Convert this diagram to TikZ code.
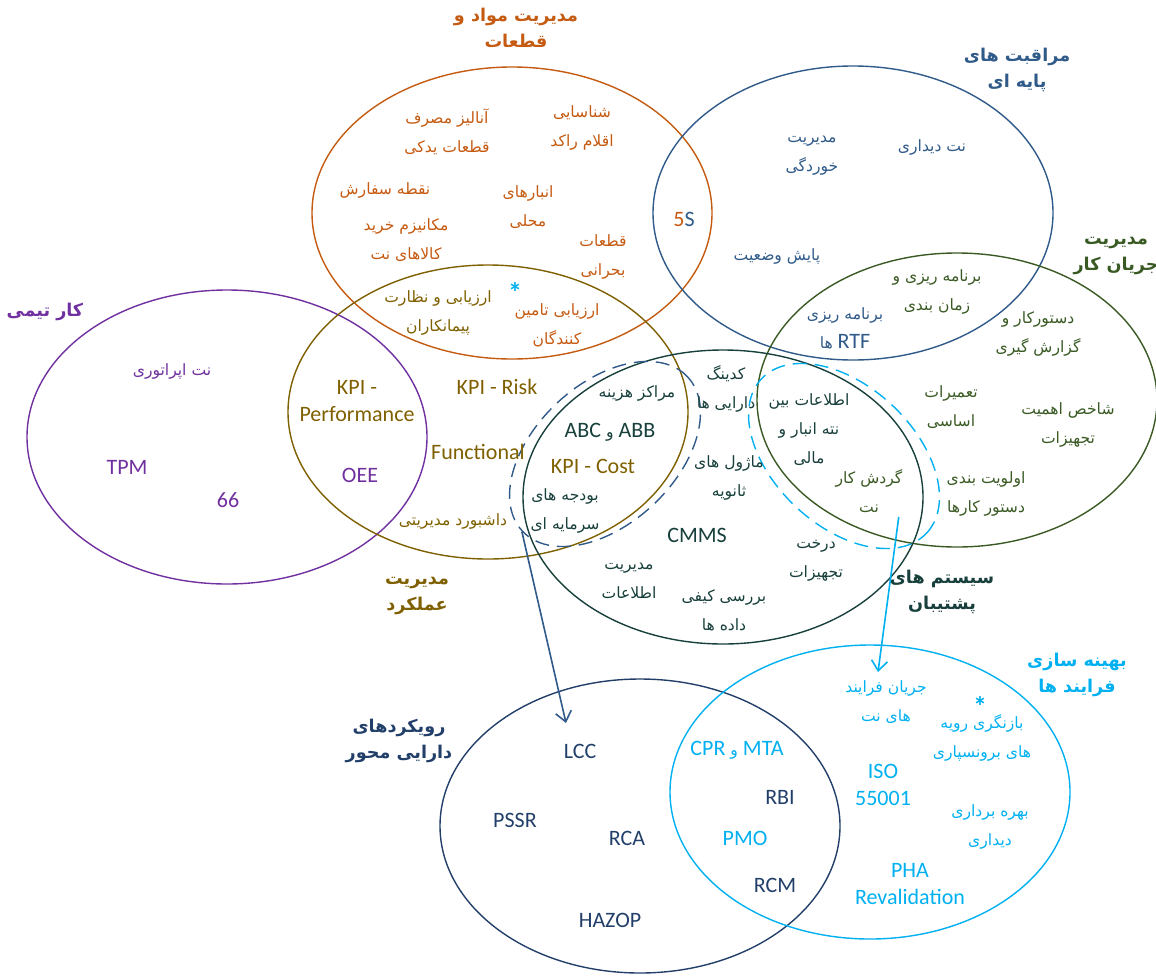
\documentclass[tikz,border=0pt]{standalone}
\usepackage{fontspec}
\setmainfont{Carlito}
\newfontfamily\fa[Script=Arabic]{DejaVu Sans}
\TeXXeTstate=1
\usetikzlibrary{shapes.geometric}
\usetikzlibrary{arrows.meta}
\definecolor{orangeM}{HTML}{C55A11}
\definecolor{blueB}{HTML}{2F5A89}
\definecolor{greenW}{HTML}{3A5A24}
\definecolor{purpleT}{HTML}{7030A0}
\definecolor{oliveP}{HTML}{7F6000}
\definecolor{tealS}{HTML}{173F3B}
\definecolor{navyA}{HTML}{223F6A}
\definecolor{cyanO}{HTML}{00B0F0}
\newcommand{\rl}[1]{\beginR #1\endR}
\newcommand{\lt}[1]{\beginL{\rmfamily\fontsize{11}{13}\selectfont #1}\endL}

\begin{document}
\begin{tikzpicture}[x=0.5pt, y=-0.5pt,
		>={Straight Barb[length=5pt, width=8pt]},
		ring/.style={line width=0.7pt},
		lens/.style={ellipse, draw, dash pattern=on 7pt off 4pt, line width=0.7pt, inner sep=0pt, minimum width=113pt, minimum height=70pt},
		fa/.style={font=\fa\fontsize{7.8}{14.5}\selectfont, align=center, inner sep=1pt},
		en/.style={font=\fontsize{11}{13.5}\selectfont, align=center, inner sep=1pt},
		head/.style={font=\fa\bfseries\fontsize{8.8}{13}\selectfont, align=center, inner sep=1pt},
		star/.style={font=\bfseries\fontsize{14}{14}\selectfont, text=cyanO, inner sep=0pt},
		link/.style={->, line width=0.8pt}]
		\useasboundingbox (0,0) rectangle (1156,975);
		
		% the rings
		\draw[ring, orangeM] (512,213) ellipse [x radius=100pt, y radius=73pt];
		\draw[ring, blueB] (853,213) ellipse [x radius=100pt, y radius=73.5pt];
		\draw[ring, greenW] (957,400) ellipse [x radius=100pt, y radius=73.5pt];
		\draw[ring, purpleT] (227,437) ellipse [x radius=100pt, y radius=73.5pt];
		\draw[ring, oliveP] (488,412) ellipse [x radius=100pt, y radius=73.5pt];
		\draw[ring, tealS] (723,497) ellipse [x radius=100pt, y radius=73.5pt];
		\draw[ring, navyA] (640,826) ellipse [x radius=100pt, y radius=73.5pt];
		\draw[ring, cyanO] (870,792) ellipse [x radius=100pt, y radius=73.5pt];
		
		\draw (605,454) node[lens, blueB, rotate=43] (lensA) {};
		\draw (844,456) node[lens, cyanO, rotate=-43] (lensB) {};
		
		% materials and parts
		\draw (516,28) node[head, text=orangeM] (matT) {\rl{مدیریت مواد و}\\\rl{قطعات}};
		\draw (447,132) node[fa, text=orangeM] (spend) {\rl{آنالیز مصرف}\\\rl{قطعات یدکی}};
		\draw (582,128) node[fa, text=orangeM] (idle) {\rl{شناسایی}\\\rl{اقلام راکد}};
		\draw (385,190) node[fa, text=orangeM] (reord) {\rl{نقطه سفارش}};
		\draw (406,240) node[fa, text=orangeM] (buy) {\rl{مکانیزم خرید}\\\rl{کالاهای نت}};
		\draw (528,207) node[fa, text=orangeM] (store) {\rl{انبارهای}\\\rl{محلی}};
		\draw (603,257) node[fa, text=orangeM] (crit) {\rl{قطعات}\\\rl{بحرانی}};
		\draw (557,325) node[fa, text=orangeM] (supl) {\rl{ارزیابی تامین}\\\rl{کنندگان}};
		\draw (515,292) node[star] (st1) {*};
		\draw (684,219) node[en] (fives) {\textcolor{orangeM}{5}\textcolor{blueB}{S}};
		
		% performance
		\draw (438,313) node[fa, text=oliveP] (contr) {\rl{ارزیابی و نظارت}\\\rl{پیمانکاران}};
		\draw (357,401) node[en, text=oliveP] (kpip) {KPI -\\Performance};
		\draw (497,387) node[en, text=oliveP] (kpir) {KPI - Risk};
		\draw (478,452) node[en, text=oliveP] (func) {Functional};
		\draw (453,521) node[fa, text=oliveP] (dash) {\rl{داشبورد مدیریتی}};
		\draw (417,596) node[head, text=oliveP] (perfT) {\rl{مدیریت}\\\rl{عملکرد}};
		\draw (593,466) node[en, text=oliveP] (kpic) {KPI - Cost};
		
		% team work
		\draw (45,312) node[head, text=purpleT] (teamT) {\rl{کار تیمی}};
		\draw (172,371) node[fa, text=purpleT] (opm) {\rl{نت اپراتوری}};
		\draw (127,467) node[en, text=purpleT] (tpm) {TPM};
		\draw (228,500) node[en, text=purpleT] (six) {66};
		\draw (360,475) node[en, text=purpleT] (oee) {OEE};
		
		% basic care
		\draw (1017,70) node[head, text=blueB] (baseT) {\rl{مراقبت های}\\\rl{پایه ای}};
		\draw (812,156) node[fa, text=blueB] (corr) {\rl{مدیریت}\\\rl{خوردگی}};
		\draw (932,147) node[fa, text=blueB] (vis) {\rl{نت دیداری}};
		\draw (777,256) node[fa, text=blueB] (cm) {\rl{پایش وضعیت}};
		\draw (845,328) node[fa, text=blueB] (rtf) {\rl{برنامه ریزی}\\\rl{\lt{RTF} ها}};
		
		% work flow
		\draw (1116,256) node[head, text=greenW] (flowT) {\rl{مدیریت}\\\rl{جریان کار}};
		\draw (937,292) node[fa, text=greenW] (sched) {\rl{برنامه ریزی و}\\\rl{زمان بندی}};
		\draw (1038,334) node[fa, text=greenW] (wo) {\rl{دستورکار و}\\\rl{گزارش گیری}};
		\draw (951,407) node[fa, text=greenW] (ovh) {\rl{تعمیرات}\\\rl{اساسی}};
		\draw (1068,425) node[fa, text=greenW] (crit2) {\rl{شاخص اهمیت}\\\rl{تجهیزات}};
		\draw (986,494) node[fa, text=greenW] (prio) {\rl{اولویت بندی}\\\rl{دستور کارها}};
		\draw (869,491) node[fa, text=greenW] (wflow) {\rl{گردش کار}\\\rl{نت}};
		
		% support systems
		\draw (809,430) node[fa, text=tealS] (linkd) {\rl{اطلاعات بین}\\\rl{نته انبار و}\\\rl{مالی}};
		\draw (726,389) node[fa, text=tealS] (code) {\rl{کدینگ}\\\rl{دارایی ها}};
		\draw (637,393) node[fa, text=tealS] (cost) {\rl{مراکز هزینه}};
		\draw (610,432) node[fa, text=tealS] (abc) {\rl{\lt{ABB} و \lt{ABC}}};
		\draw (729,478) node[fa, text=tealS] (mods) {\rl{ماژول های}\\\rl{ثانویه}};
		\draw (565,511) node[fa, text=tealS] (capex) {\rl{بودجه های}\\\rl{سرمایه ای}};
		\draw (697,535) node[en, text=tealS] (cmms) {CMMS};
		\draw (629,581) node[fa, text=tealS] (info) {\rl{مدیریت}\\\rl{اطلاعات}};
		\draw (816,561) node[fa, text=tealS] (tree) {\rl{درخت}\\\rl{تجهیزات}};
		\draw (724,610) node[fa, text=tealS] (dq) {\rl{بررسی کیفی}\\\rl{داده ها}};
		\draw (942,592) node[head, text=tealS] (suppT) {\rl{سیستم های}\\\rl{پشتیبان}};
		
		% asset approaches
		\draw (399,741) node[head, text=navyA] (assetT) {\rl{رویکردهای}\\\rl{دارایی محور}};
		\draw (580,751) node[en, text=navyA] (lcc) {LCC};
		\draw (515,820) node[en, text=navyA] (pssr) {PSSR};
		\draw (627,838) node[en, text=navyA] (rca) {RCA};
		\draw (610,920) node[en, text=navyA] (hazop) {HAZOP};
		\draw (780,797) node[en, text=navyA] (rbi) {RBI};
		\draw (775,885) node[en, text=navyA] (rcm) {RCM};
		
		% process optimisation
		\draw (1077,675) node[head, text=cyanO] (optT) {\rl{بهینه سازی}\\\rl{فرایند ها}};
		\draw (886,702) node[fa, text=cyanO] (pflow) {\rl{جریان فرایند}\\\rl{های نت}};
		\draw (982,738) node[fa, text=cyanO] (outs) {\rl{بازنگری رویه}\\\rl{های برونسپاری}};
		\draw (980,706) node[star] (st2) {*};
		\draw (737,750) node[fa, text=cyanO] (mta) {\rl{\lt{MTA} و \lt{CPR}}};
		\draw (883,785) node[en, text=cyanO] (iso) {ISO\\55001};
		\draw (745,838) node[en, text=cyanO] (pmo) {PMO};
		\draw (990,827) node[fa, text=cyanO] (ops) {\rl{بهره برداری}\\\rl{دیداری}};
		\draw (910,884) node[en, text=cyanO] (pha) {PHA\\Revalidation};
		
		\coordinate (lccin) at (566,723);
		\coordinate (pfin) at (878,672);
		\draw[link, blueB] (lensA.west) -- (lccin);
		\draw[link, cyanO] ([xshift=-3pt, yshift=-1pt]wflow.south east) -- (pfin);
	\end{tikzpicture}
\end{document}
